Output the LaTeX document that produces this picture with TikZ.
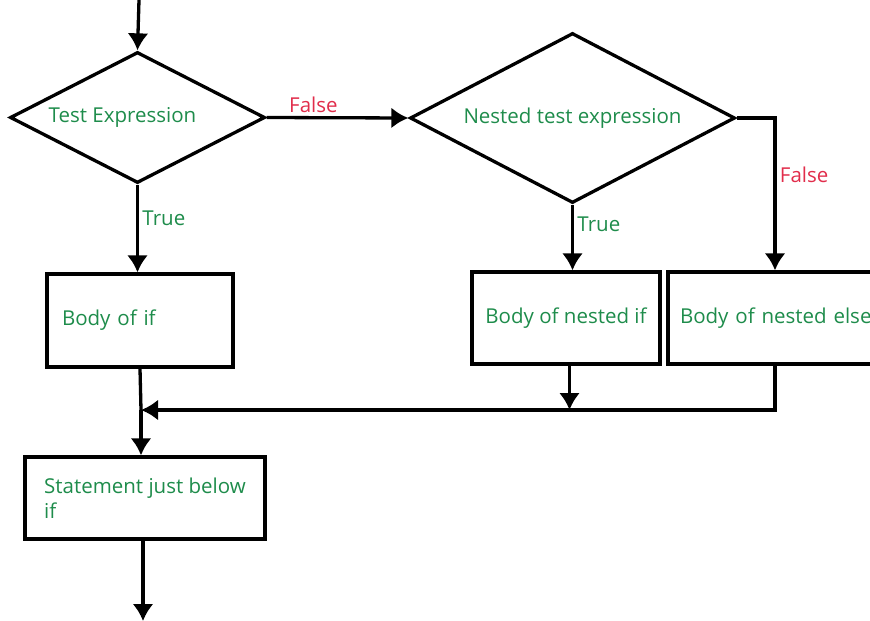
\documentclass[tikz,border=0pt]{standalone}
\usepackage{fontspec}
\setmainfont{Open Sans}
\usetikzlibrary{shapes.geometric,arrows.meta}
\definecolor{yes}{RGB}{30,140,75}
\definecolor{no}{RGB}{225,45,75}
\tikzset{
  flow/.style={-{Latex[length=17pt,width=21pt]}},
  test/.style={draw,diamond,inner sep=0pt,text=yes},
  block/.style={draw,rectangle,inner ysep=0pt,text=yes,align=left},
}
\begin{document}
\begin{tikzpicture}[x=1pt,y=-1pt,line width=3.3pt,font=\fontsize{20.5}{25}\selectfont]
  \path[use as bounding box,clip] (0,0) rectangle (870,621);
  %% decisions
  \node[test,aspect=1.95,minimum width=255pt,minimum height=131pt] (test) at (137.5,117.5) {Test Expression\hspace*{30pt}};
  \node[test,aspect=1.9,minimum width=325pt,minimum height=170pt] (nested) at (572.5,118) {Nested test expression};
  %% bodies
  \node[block,minimum width=186pt,minimum height=93pt,inner xsep=15pt,text width=156pt] (ifbody) at (140,320.5) {Body of if};
  \node[block,minimum width=188pt,minimum height=92pt,align=center] (nifbody) at (566,318) {Body of nested if};
  \node[block,minimum width=240pt,minimum height=92pt,inner xsep=12pt,text width=216pt] (nelsebody) at (788,318) {Body of nested else};
  \node[block,minimum width=240pt,minimum height=82pt] (after) at (145,498) {Statement just below\\if};
  %% connectors
  \coordinate (entry) at (139,0);
  \coordinate (exit) at (143,621);
  \coordinate (join) at (141,410);
  \coordinate (bend) at (775,118);
  \draw[flow] (entry) -- (test.north);
  \draw[flow] (test.east) -- node[above,text=no,pos=.33] {False} (nested.west);
  \draw[flow] (nested.east) -- (bend) -- node[right,text=no,pos=.37] {False} (bend |- nelsebody.north);
  \draw[flow] (nested.south) -- node[right,text=yes,pos=.3] {True} (nested.south |- nifbody.north);
  \draw[flow] (test.south) -- node[right,text=yes,pos=.38] {True} (test.south |- ifbody.north);
  \draw[flow] (nifbody.south -| nested.south) ++(-3,0) coordinate (a) -- (a |- join);
  \draw[flow] (nelsebody.south -| bend) -- (bend |- join) -- (join);
  \draw (ifbody.south) -- (join);
  \draw[flow] (join) -- (join |- after.north);
  \draw[flow] (after.south -| exit) -- (exit);
\end{tikzpicture}
\end{document}
